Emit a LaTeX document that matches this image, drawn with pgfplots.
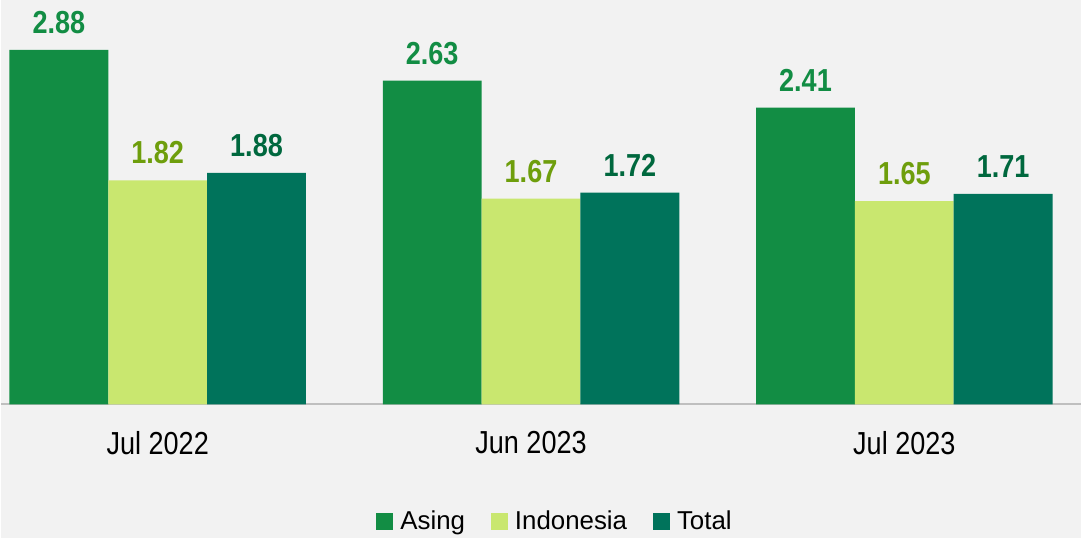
\documentclass[border=0pt]{standalone}
\usepackage{pgfplots}
\pgfplotsset{compat=1.18}
\usepackage{fontspec}
\setmainfont{Liberation Sans}
\newfontfamily\narrowfont[FakeStretch=0.85]{Liberation Sans}
\definecolor{bg}{RGB}{242,242,242}
\definecolor{axisgray}{RGB}{191,191,191}
\definecolor{asing}{RGB}{18,141,68}
\definecolor{indo}{RGB}{201,231,111}
\definecolor{total}{RGB}{0,115,91}
\definecolor{asinglab}{RGB}{18,141,68}
\definecolor{indolab}{RGB}{110,158,12}
\definecolor{totallab}{RGB}{0,104,62}
\begin{document}
\begin{tikzpicture}
\fill[bg] (0,0) rectangle (1082bp,539bp);
\begin{axis}[
  at={(0,134bp)}, anchor=south west,
  width=1082bp, height=405bp, scale only axis,
  xmin=-0.4198, xmax=2.4733, ymin=0, ymax=3.285,
  ybar=0pt, bar width=99bp,
  axis y line=none, axis x line*=bottom,
  x axis line style={draw=axisgray, line width=2bp, -},
  xtick={0,1,2}, xticklabels={Jul 2022, Jun 2023, Jul 2023},
  major tick length=0pt,
  xticklabel style={font=\narrowfont\fontsize{32}{32}\selectfont, anchor=north, inner sep=0pt, yshift=-27bp},
  /pgf/number format/assume math mode=true,
  /pgf/number format/.cd, fixed, fixed zerofill, precision=2, /pgfplots/.cd,
  nodes near coords,
  nodes near coords style={font=\narrowfont\bfseries\fontsize{32}{32}\selectfont, anchor=south, inner sep=0pt, yshift=16bp},
  legend columns=3,
  legend style={at={(axis description cs:0.513,-0.2889)}, anchor=center, draw=none, fill=none,
    font=\fontsize{26}{26}\selectfont,
    /tikz/every even column/.append style={column sep=24bp}},
  legend image code/.code={\fill[#1] (0bp,-8.5bp) rectangle (17bp,8.5bp); \path (22bp,0);},
  clip=false,
]
\addplot[fill=asing, draw=none, every node near coord/.append style={text=asinglab}] coordinates {(0,2.88) (1,2.63) (2,2.41)};
\addplot[fill=indo, draw=none, every node near coord/.append style={text=indolab}] coordinates {(0,1.82) (1,1.67) (2,1.65)};
\addplot[fill=total, draw=none, every node near coord/.append style={text=totallab}] coordinates {(0,1.88) (1,1.72) (2,1.71)};
\legend{Asing, Indonesia, Total}
\end{axis}
\end{tikzpicture}
\end{document}
